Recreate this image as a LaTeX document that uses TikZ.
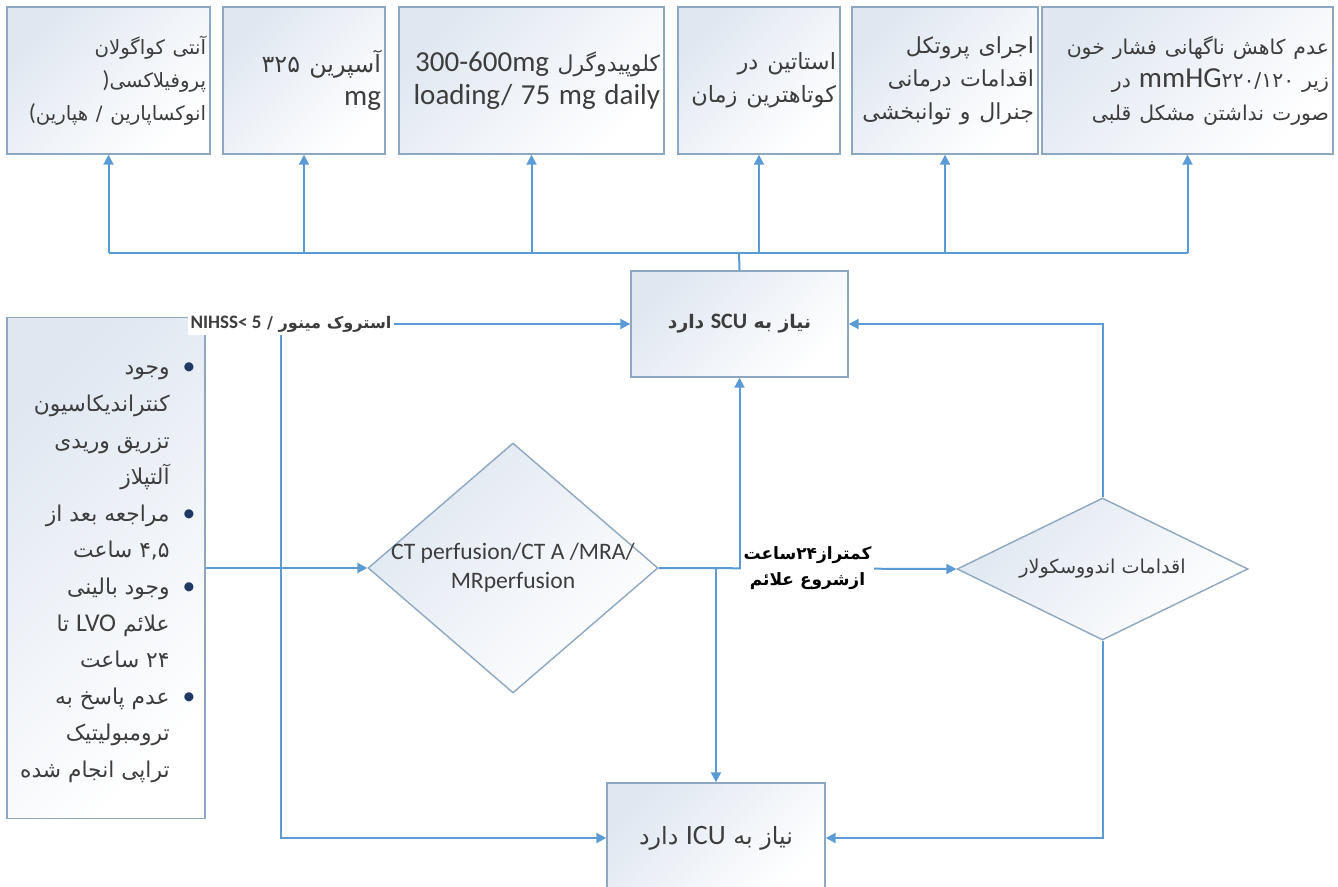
\documentclass[tikz,border=0pt]{standalone}
\usepackage{fontspec}
\setmainfont{Carlito}
\newfontfamily\arabicfont[Script=Arabic,Scale=0.85]{DejaVu Sans}
\TeXXeTstate=1
\usetikzlibrary{arrows.meta,shapes.geometric}

\definecolor{linkblue}{HTML}{5B9BD5}
\definecolor{edgeblue}{HTML}{8DA7C1}
\definecolor{fillblue}{HTML}{E0E7F1}
\definecolor{textgray}{HTML}{3D3D3D}
\definecolor{dotnavy}{HTML}{1F3864}

\newcommand{\fa}[1]{{\arabicfont\beginR#1\endR}}
\newcommand{\lat}[1]{{\fontsize{14.5}{16.5}\selectfont\rmfamily #1}}
\newcommand{\bul}[1]{\fa{#1}\rlap{\kern6.5pt\textcolor{dotnavy}{\textbullet}}}

\tikzset{
    box/.style={draw=edgeblue, line width=0.7pt, top color=fillblue, bottom color=white, shading angle=45, text=textgray, inner sep=0pt},
    topbox/.style={box, minimum height=73.5pt, inner xsep=2pt, align=right},
    decision/.style={diamond, draw=edgeblue, line width=0.7pt, top color=fillblue, bottom color=white, shading angle=45, inner sep=0pt},
    link/.style={draw=linkblue, line width=1pt},
    arr/.style={link, -{Triangle[length=5pt, width=5pt]}},
    tag/.style={fill=white, inner sep=1.5pt, align=center, font=\bfseries\fontsize{10}{13}\selectfont}
}

\begin{document}
\begin{tikzpicture}[x=0.5pt, y=-0.5pt]
    \useasboundingbox (0,0) rectangle (1338,887);
    \clip (0,0) rectangle (1338,887);

    \node[topbox, text width=97.5pt, font=\fontsize{11.6}{16.5}\selectfont]  (anti)     at (108.5,80.5)  {\fa{آنتی کواگولان}\\{\rmfamily )}\fa{پروفیلاکسی}\\{\rmfamily (}\fa{انوکساپارین / هپارین}};
    \node[topbox, text width=77pt, font=\fontsize{14}{16.5}\selectfont]      (aspirin)  at (304,80.5)    {\fa{آسپرین ۳۲۵}\\\lat{mg}};
    \node[topbox, text width=128.5pt, font=\fontsize{12.9}{16.5}\selectfont] (clopi)    at (531.5,80.5)  {\fa{کلوپیدوگرل \lat{300-600mg}}\\\lat{loading/ 75 mg daily}};
    \node[topbox, text width=77pt, font=\fontsize{13.2}{16.5}\selectfont]    (statin)   at (759,80.5)    {\fa{استاتین در}\\\fa{کوتاهترین زمان}};
    \node[topbox, text width=89pt, font=\fontsize{13}{16.5}\selectfont]      (protocol) at (945,80.5)    {\fa{اجرای پروتکل}\\\fa{اقدامات درمانی}\\\fa{جنرال و توانبخشی}};
    \node[topbox, text width=141.5pt, font=\fontsize{12}{16.5}\selectfont]   (pressure) at (1187.5,80.5) {\fa{عدم کاهش ناگهانی فشار خون}\\\fa{زیر ۲۲۰/۱۲۰\lat{mmHG} در}\\\fa{صورت نداشتن مشکل قلبی}};

    \node[box, minimum width=108.5pt, minimum height=53pt, font=\bfseries\fontsize{11}{13}\selectfont] (scu) at (739.5,324) {\fa{نیاز به {\rmfamily SCU} دارد}};
    \node[box, minimum width=109pt, minimum height=55pt, font=\fontsize{14}{16}\selectfont] (icu) at (716,838) {\fa{نیاز به {\rmfamily ICU} دارد}};

    \node[box, minimum width=99pt, minimum height=250.5pt] (cond) at (106,568) {};
    \node[anchor=east, align=right, text=textgray, inner sep=0pt, font=\fontsize{12.8}{18.3}\selectfont] (condtext) at (170,573) {
        \bul{وجود}\\\fa{کنتراندیکاسیون}\\\fa{تزریق وریدی}\\\fa{آلتپلاز}\\
        \bul{مراجعه بعد از}\\\fa{۴,۵ ساعت}\\
        \bul{وجود بالینی}\\\fa{علائم {\rmfamily LVO} تا}\\\fa{۲۴ ساعت}\\
        \bul{عدم پاسخ به}\\\fa{ترومبولیتیک}\\\fa{تراپی انجام شده}};

    \node[decision, minimum width=145pt, minimum height=125pt] (ctd) at (513,568) {};
    \node[text=textgray, align=center, font=\fontsize{11.8}{14.5}\selectfont] (ctdtext) at (ctd) {CT perfusion/CT A /MRA/\\MRperfusion};
    \node[decision, minimum width=145.5pt, minimum height=71pt] (endo) at (1102.5,569) {};
    \node[text=textgray, font=\fontsize{11.3}{14}\selectfont] (endotext) at (endo) {\fa{اقدامات اندووسکولار}};

    \coordinate (bus) at (739,253);
    \draw[link] (scu.north) -- (bus);
    \draw[link] (anti.south |- bus) -- (pressure.south |- bus);
    \foreach \n in {anti,aspirin,clopi,statin,protocol,pressure}
        \draw[arr] (\n.south |- bus) -- (\n.south);

    \draw[arr] (cond.east) -- (ctd.west);
    \coordinate (split) at (281,568);
    \draw[arr] (split) |- node[tag, text=textgray, pos=0.5, xshift=5pt, font=\bfseries\fontsize{9.5}{12}\selectfont] (minor) {\fa{استروک مینور / {\rmfamily\beginL NIHSS< 5\endL}}} (scu.west);
    \draw[arr] (split) |- (icu.west);
    \draw[arr] (ctd.east) -- node[tag] (window) {\fa{کمتراز۲۴ساعت}\\\fa{ازشروع علائم}} (endo.west);
    \draw[arr] (scu.south |- ctd.east) -- (scu.south);
    \draw[arr] (icu.north |- ctd.east) -- (icu.north);
    \draw[arr] (endo.north) |- (scu.east);
    \draw[arr] (endo.south) |- (icu.east);
\end{tikzpicture}
\end{document}
